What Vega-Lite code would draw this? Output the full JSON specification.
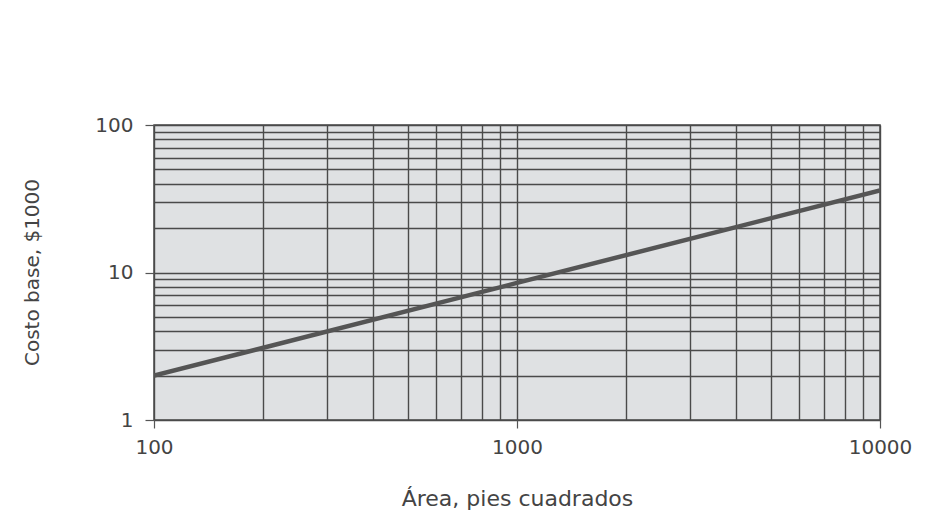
{
  "$schema": "https://vega.github.io/schema/vega-lite/v6.json",
  "width": 726,
  "height": 295,
  "autosize": "none",
  "padding": {"left": 154, "top": 125, "right": 53, "bottom": 109},
  "background": "white",
  "data": {
    "values": [
      {"area": 100, "costo": 2},
      {"area": 1000, "costo": 8.5},
      {"area": 10000, "costo": 36}
    ]
  },
  "mark": {"type": "line", "color": "#555555", "strokeWidth": 4.5, "clip": true},
  "encoding": {
    "x": {
      "field": "area",
      "type": "quantitative",
      "scale": {"type": "log", "domain": [100, 10000], "nice": false},
      "axis": {
        "title": "Área, pies cuadrados",
        "values": [100, 200, 300, 400, 500, 600, 700, 800, 900, 1000, 2000, 3000, 4000, 5000, 6000, 7000, 8000, 9000, 10000],
        "format": "d",
        "labelExpr": "indexof([100,1000,10000], datum.value) >= 0 ? datum.label : ''",
        "tickOpacity": {"condition": {"test": "indexof([100,1000,10000], datum.value) >= 0", "value": 1}, "value": 0},
        "tickSize": 8,
        "labelPadding": 9,
        "titleY": 85,
        "titleBaseline": "alphabetic",
        "titleFontSize": 22
      }
    },
    "y": {
      "field": "costo",
      "type": "quantitative",
      "scale": {"type": "log", "domain": [1, 100], "nice": false},
      "axis": {
        "title": "Costo base, $1000",
        "values": [1, 2, 3, 4, 5, 6, 7, 8, 9, 10, 20, 30, 40, 50, 60, 70, 80, 90, 100],
        "format": "d",
        "labelExpr": "indexof([1,10,100], datum.value) >= 0 ? datum.label : ''",
        "tickOpacity": {"condition": {"test": "indexof([1,10,100], datum.value) >= 0", "value": 1}, "value": 0},
        "tickSize": 9,
        "labelPadding": 12,
        "titleX": -122,
        "titleY": 147,
        "titleAngle": -90,
        "titleAlign": "center",
        "titleBaseline": "middle",
        "titleFontSize": 20
      }
    }
  },
  "config": {
    "view": {"fill": "#dfe1e3", "stroke": "#4a4a4a", "strokeWidth": 1.5},
    "axis": {
      "grid": true,
      "gridColor": "#4a4a4a",
      "gridWidth": 1.4,
      "gridOpacity": 1,
      "domain": false,
      "tickColor": "#555555",
      "tickWidth": 1.2,
      "labelFont": "DejaVu Sans",
      "labelFontSize": 20,
      "labelColor": "#444444",
      "labelFontWeight": "normal",
      "titleFont": "DejaVu Sans",
      "titleColor": "#444444",
      "titleFontWeight": "normal",
      "labelFlush": false,
      "labelOverlap": false
    }
  }
}
